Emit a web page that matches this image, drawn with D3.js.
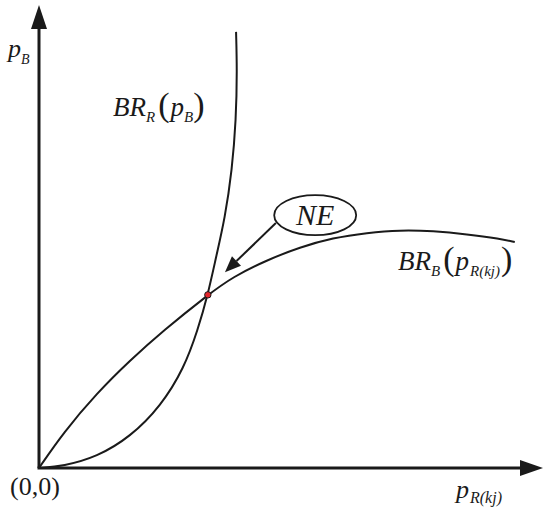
<!DOCTYPE html>
<meta charset="utf-8">
<style>
body { margin: 0; background: #fff; }
text { font-family: "Liberation Serif", "Times New Roman", serif; fill: #1a1a1a; }
.axis-line { stroke: #1a1a1a; stroke-width: 3px; }
.curve { fill: none; stroke: #1a1a1a; stroke-width: 2px; }
</style>
<svg width="550" height="517"></svg>
<script src="https://cdn.jsdelivr.net/npm/d3@7"></script>
<script>

// best response of B to p_R(kj)
var brBx = [0, 0.48, 1.15, 1.81, 2.46, 3.35, 3.85, 4.52, 5.18, 5.83, 6.51, 7.16, 7.82, 8.49, 9.15, 9.44];
var brBy = [0, 0.76, 1.62, 2.33, 2.96, 3.74, 4.13, 4.49, 4.77, 4.97, 5.08, 5.14, 5.12, 5.05, 4.95, 4.88];

// best response of R to p_B
var brRx = [0, 0.48, 1.15, 1.81, 2.42, 2.88, 3.15, 3.35, 3.51, 3.69, 3.83, 3.91, 3.93, 3.91];
var brRy = [0, 0.04, 0.24, 0.67, 1.34, 2.16, 2.98, 3.74, 4.54, 5.40, 6.44, 7.52, 8.60, 9.42];

// Nash equilibrium
var ne = [3.35, 3.74];

var svg = d3.select("svg"),
    origin = {x: 39, y: 468};

var x = d3.scaleLinear().domain([0, 10]).range([origin.x, 543]),
    y = d3.scaleLinear().domain([0, 10]).range([origin.y, 5]);

var line = d3.line()
    .curve(d3.curveBasis)
    .x(function(d) { return x(d[0]); })
    .y(function(d) { return y(d[1]); });

var brB = brBx.map(function(v, i) { return [v, brBy[i]]; }),
    brR = brRx.map(function(v, i) { return [v, brRy[i]]; });

// axes
svg.append("line")
    .attr("class", "axis-line")
    .attr("x1", x(0)).attr("y1", y(0))
    .attr("x2", x(0)).attr("y2", y(9.6));
svg.append("path")
    .attr("fill", "#1a1a1a")
    .attr("d", "M" + x(0) + "," + y(10) + "L" + (x(0) - 8) + "," + (y(10) + 24) + "L" + (x(0) + 8) + "," + (y(10) + 24) + "Z");

svg.append("line")
    .attr("class", "axis-line")
    .attr("x1", x(0) - 1.5).attr("y1", y(0))
    .attr("x2", x(9.6)).attr("y2", y(0));
svg.append("path")
    .attr("fill", "#1a1a1a")
    .attr("d", "M" + x(10) + "," + y(0) + "L" + (x(10) - 23) + "," + (y(0) - 8) + "L" + (x(10) - 23) + "," + (y(0) + 8) + "Z");

// curves
svg.append("path").attr("class", "curve").attr("d", line(brB));
svg.append("path").attr("class", "curve").attr("d", line(brR));

// NE callout
var ex = x(5.48), ey = y(5.46);
svg.append("ellipse")
    .attr("cx", ex).attr("cy", ey)
    .attr("rx", 41).attr("ry", 20)
    .attr("fill", "none").attr("stroke", "#1a1a1a").attr("stroke-width", 1.8);
svg.append("text")
    .attr("x", ex).attr("y", ey + 10)
    .attr("text-anchor", "middle")
    .style("font-style", "italic")
    .style("font-size", "30px")
    .text("NE");

var ax1 = x(4.70), ay1 = y(5.29), ax2 = x(3.69), ay2 = y(4.23);
var ang = Math.atan2(ay2 - ay1, ax2 - ax1), hl = 16, hw = 6.5;
var bx = ax2 - hl * Math.cos(ang), by = ay2 - hl * Math.sin(ang);
svg.append("line")
    .attr("x1", ax1).attr("y1", ay1).attr("x2", bx).attr("y2", by)
    .attr("stroke", "#1a1a1a").attr("stroke-width", 2);
svg.append("path")
    .attr("fill", "#1a1a1a")
    .attr("d", "M" + ax2 + "," + ay2 +
      "L" + (bx + hw * Math.sin(ang)) + "," + (by - hw * Math.cos(ang)) +
      "L" + (bx - hw * Math.sin(ang)) + "," + (by + hw * Math.cos(ang)) + "Z");

svg.append("circle")
    .attr("cx", x(ne[0])).attr("cy", y(ne[1]))
    .attr("r", 3.2)
    .attr("fill", "#e3262c").attr("stroke", "#1a1a1a").attr("stroke-width", 1);

// labels
function label(px, py, parts) {
  var t = svg.append("text").attr("x", px).attr("y", py);
  parts.forEach(function(p) {
    t.append("tspan")
        .attr("dx", p.dx || 0)
        .attr("dy", p.dy || 0)
        .style("font-size", p.size + "px")
        .style("font-style", p.it ? "italic" : "normal")
        .text(p.s);
  });
}

label(8, 57, [
  {s: "p", size: 26, it: true},
  {s: "B", size: 14, it: true, dy: 7}
]);

label(10, 495, [{s: "(0,0)", size: 26}]);

label(456, 498, [
  {s: "p", size: 26, it: true},
  {s: "R(kj)", size: 16, it: true, dy: 5, dx: 1}
]);

label(113, 116, [
  {s: "BR", size: 27, it: true},
  {s: "R", size: 15, it: true, dy: 6},
  {s: "(", size: 34, dy: -6, dx: 3},
  {s: "p", size: 27, it: true, dx: 1},
  {s: "B", size: 15, it: true, dy: 6},
  {s: ")", size: 34, dy: -6}
]);

label(398, 270, [
  {s: "BR", size: 27, it: true},
  {s: "B", size: 15, it: true, dy: 6},
  {s: "(", size: 34, dy: -6, dx: 3},
  {s: "p", size: 27, it: true, dx: 1},
  {s: "R(kj)", size: 15, it: true, dy: 6, dx: 1},
  {s: ")", size: 34, dy: -6, dx: 1}
]);

</script>
